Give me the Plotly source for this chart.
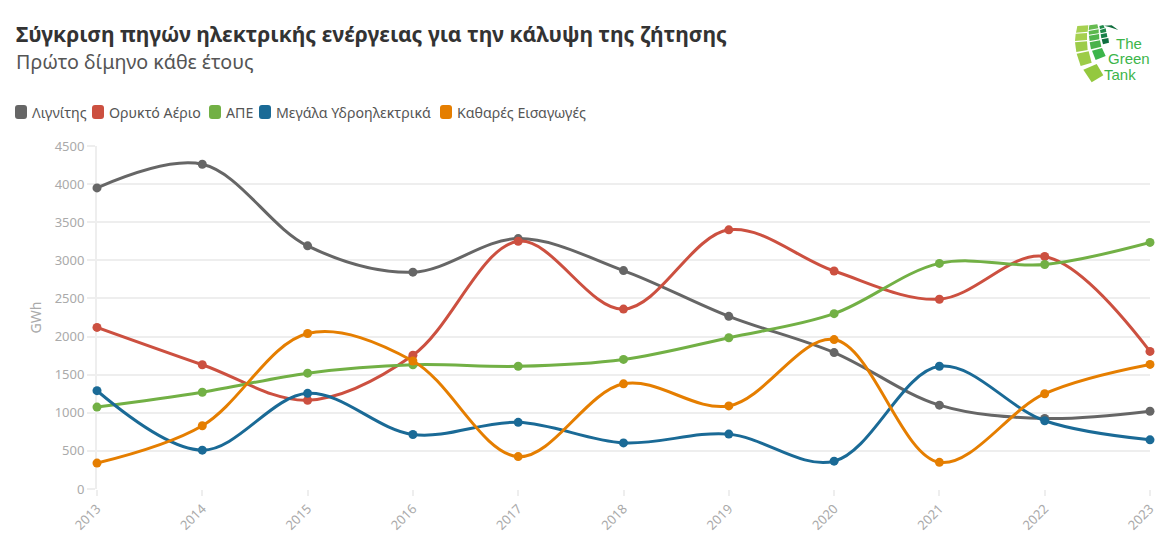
import plotly.graph_objects as go

years = [2013, 2014, 2015, 2016, 2017, 2018, 2019, 2020, 2021, 2022, 2023]
lignite = [3950, 4260, 3190, 2845, 3285, 2865, 2265, 1790, 1100, 925, 1020]
gas = [2120, 1630, 1165, 1755, 3250, 2360, 3400, 2860, 2490, 3050, 1805]
res = [1075, 1270, 1520, 1630, 1610, 1700, 1985, 2300, 2960, 2945, 3235]
hydro = [1290, 510, 1255, 715, 875, 605, 720, 365, 1610, 895, 645]
imports = [340, 830, 2040, 1680, 425, 1380, 1090, 1960, 350, 1250, 1635]

names = ["Λιγνίτης", "Ορυκτό Αέριο", "ΑΠΕ", "Μεγάλα Υδροηλεκτρικά", "Καθαρές Εισαγωγές"]
colors = ["#666666", "#cc5040", "#72b045", "#1a6a96", "#e57e00"]
legend_x = [15, 92, 209, 259, 440]

FONT = "Noto Sans"
W, H = 1170, 553
L, R, T, B = 97, 1150, 146, 489


# page pixels to paper coordinates, for everything outside the axes
def px(x):
    return (x - L) / (R - L)


def py(y):
    return (B - y) / (B - T)


def path(points):
    return "M" + " L".join(f"{px(x):.5f},{py(y):.5f}" for x, y in points) + " Z"


fig = go.Figure()
for name, color, values in zip(names, colors, [lignite, gas, res, hydro, imports]):
    fig.add_trace(go.Scatter(x=years, y=values, name=name, mode="lines+markers",
                             line=dict(color=color, width=3, shape="spline", smoothing=1),
                             marker=dict(color=color, size=9), cliponaxis=False, showlegend=False))

shapes = []
annotations = []

# legend, drawn by hand to keep the tight spacing
for name, color, x0 in zip(names, colors, legend_x):
    x1, y0, y1 = x0 + 12, 105, 119
    r = 3
    rounded = (f"M{px(x0 + r):.5f},{py(y0):.5f} L{px(x1 - r):.5f},{py(y0):.5f} "
               f"Q{px(x1):.5f},{py(y0):.5f} {px(x1):.5f},{py(y0 + r):.5f} "
               f"L{px(x1):.5f},{py(y1 - r):.5f} Q{px(x1):.5f},{py(y1):.5f} {px(x1 - r):.5f},{py(y1):.5f} "
               f"L{px(x0 + r):.5f},{py(y1):.5f} Q{px(x0):.5f},{py(y1):.5f} {px(x0):.5f},{py(y1 - r):.5f} "
               f"L{px(x0):.5f},{py(y0 + r):.5f} Q{px(x0):.5f},{py(y0):.5f} {px(x0 + r):.5f},{py(y0):.5f} Z")
    shapes.append(dict(type="path", xref="paper", yref="paper", path=rounded,
                       fillcolor=color, line=dict(width=0)))
    annotations.append(dict(text=name, x=px(x0 + 15), y=py(112), xref="paper", yref="paper",
                            xanchor="left", yanchor="middle", showarrow=False,
                            font=dict(family=FONT, size=14.2, color="#555555")))

annotations.append(dict(text="<b>Σύγκριση πηγών ηλεκτρικής ενέργειας για την κάλυψη της ζήτησης</b>",
                        x=px(14), y=py(33), xref="paper", yref="paper", xanchor="left", yanchor="middle",
                        showarrow=False, font=dict(family=FONT, size=21.1, color="#333333")))
annotations.append(dict(text="Πρώτο δίμηνο κάθε έτους", x=px(14), y=py(61), xref="paper", yref="paper",
                        xanchor="left", yanchor="middle", showarrow=False,
                        font=dict(family=FONT, size=19.7, color="#555555")))

# logo tiles, from the zoomed crop (3x, origin 1040,10)
tiles = [
    ("#a6d050", [(112, 48), (145, 46), (143, 65), (108, 68)]),
    ("#a6d050", [(107, 71), (141, 69), (141, 90), (105, 93)]),
    ("#9ccc48", [(105, 97), (141, 94), (143, 120), (109, 126)]),
    ("#9ccc48", [(110, 131), (146, 124), (155, 158), (122, 168)]),
    ("#94c83e", [(130, 179), (170, 162), (190, 196), (155, 217)]),
    ("#66bb50", [(148, 46), (172, 43), (175, 55), (146, 60)]),
    ("#5cb84c", [(146, 63), (176, 58), (176, 70), (147, 74)]),
    ("#52b54c", [(147, 77), (177, 72), (178, 88), (149, 93)]),
    ("#4ab24c", [(149, 97), (180, 91), (184, 110), (153, 118)]),
    ("#3cb54a", [(156, 122), (186, 114), (197, 138), (167, 150)]),
    ("#1f8a4a", [(178, 48), (190, 45), (194, 53), (180, 57)]),
    ("#1f8a4a", [(180, 60), (197, 55), (199, 66), (182, 70)]),
    ("#178048", [(182, 73), (200, 69), (202, 81), (184, 85)]),
    ("#0f6f40", [(185, 88), (205, 84), (207, 98), (189, 103)]),
    ("#0d6b3a", [(192, 47), (215, 46), (235, 60), (210, 52)]),
]
for color, pts in tiles:
    shapes.append(dict(type="path", xref="paper", yref="paper", fillcolor=color, line=dict(width=0),
                       path=path([(1040 + x / 3, 10 + y / 3) for x, y in pts])))
for word, x, y in [("The", 1114, 43), ("Green", 1106, 58), ("Tank", 1102, 74)]:
    annotations.append(dict(text=word, x=px(x), y=py(y), xref="paper", yref="paper", xanchor="left",
                            yanchor="middle", showarrow=False,
                            font=dict(family="Liberation Sans", size=15, color="#3cb54a")))

fig.update_layout(
    width=W, height=H,
    margin=dict(l=L, r=W - R, t=T, b=H - B),
    paper_bgcolor="white", plot_bgcolor="white",
    font=dict(family=FONT, color="#aaaaaa"),
    shapes=shapes, annotations=annotations,
)
fig.update_xaxes(range=[2013, 2023], tickvals=years, tickangle=-45, showgrid=False, showline=False,
                 zeroline=False, ticks="outside", ticklen=6, tickwidth=2, tickcolor="#eeeeee",
                 tickfont=dict(size=13, color="#aaaaaa"), layer="below traces")
fig.update_yaxes(range=[0, 4500], dtick=500, gridcolor="#eeeeee", gridwidth=2, zeroline=False,
                 showline=True, linecolor="#eeeeee", linewidth=2, ticks="outside", ticklen=8, tickwidth=2,
                 tickcolor="#eeeeee", tickfont=dict(size=13, color="#aaaaaa"), layer="below traces",
                 title=dict(text="GWh", standoff=10, font=dict(size=14, color="#aaaaaa")))

# the page's default 8px body margin would shift the whole figure
fig.write_html("out.html", post_script="document.body.style.margin='0';",
               config=dict(displayModeBar=False))
